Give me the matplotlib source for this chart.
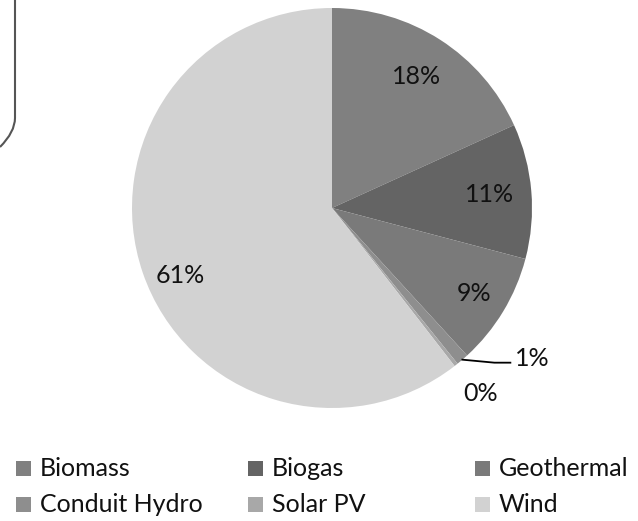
import numpy as np
import matplotlib
matplotlib.use("Agg")
import matplotlib.pyplot as plt
from matplotlib.patches import Rectangle
from matplotlib.path import Path
from matplotlib.patches import PathPatch

plt.rcParams['font.family'] = ['Lato', 'DejaVu Sans']

# data
categories = ['Biomass', 'Biogas', 'Geothermal', 'Conduit Hydro', 'Solar PV', 'Wind']
shares = [18.2, 10.9, 9.1, 1.0, 0.3, 60.5]
pct_labels = ['18%', '11%', '9%', '1%', '0%', '61%']
colors = ['#808080', '#646464', '#7a7a7a', '#8e8e8e', '#a8a8a8', '#d2d2d2']

W, H = 638, 521
FS = 18
fig = plt.figure(figsize=(W / 100, H / 100), dpi=100)

# pie centred at (332, 208) px, radius 200 px
cx, cy, R = 332, 208, 200
ax = fig.add_axes([(cx - R) / W, 1 - (cy + R) / H, 2 * R / W, 2 * R / H])
wedges, _ = ax.pie(shares, colors=colors, startangle=90, counterclock=False,
                   radius=1, wedgeprops=dict(linewidth=0))
ax.set_xlim(-1, 1)
ax.set_ylim(-1, 1)
ax.set_aspect('equal')
ax.axis('off')

# label placement: radius fraction and angle tweak per wedge
label_r = [0.78, 0.79, 0.83, None, None, 0.83]
label_dang = [0, 0, 0, 0, 0, 5]
for i, w in enumerate(wedges):
    if label_r[i] is None:
        continue
    mid = np.deg2rad((w.theta1 + w.theta2) / 2 + label_dang[i])
    ax.text(label_r[i] * np.cos(mid), label_r[i] * np.sin(mid), pct_labels[i],
            ha='center', va='center', fontsize=FS, color='#111111')

# small slices: leader line for hydro, plain text for solar
w = wedges[3]
mid = np.deg2rad((w.theta1 + w.theta2) / 2)
x0, y0 = np.cos(mid), np.sin(mid)
ax.plot([x0, x0 + 0.16, x0 + 0.24], [y0, y0 - 0.015, y0 - 0.015],
        color='black', lw=1.3, clip_on=False)
ax.text(x0 + 0.265, y0 + 0.005, pct_labels[3], ha='left', va='center',
        fontsize=FS, color='#111111', clip_on=False)
w = wedges[4]
mid = np.deg2rad((w.theta1 + w.theta2) / 2)
ax.text(np.cos(mid) + 0.12, np.sin(mid) - 0.145, pct_labels[4], ha='center',
        va='center', fontsize=FS, color='#111111', clip_on=False)

# legend, 3 columns x 2 rows
col_x = [16, 248, 475]
row_y = [468, 504]
for i, name in enumerate(categories):
    px = col_x[i % 3]
    py = row_y[i // 3]
    fig.patches.append(Rectangle((px / W, 1 - (py + 7.5) / H), 15 / W, 15 / H,
                                 transform=fig.transFigure, facecolor=colors[i],
                                 edgecolor='none'))
    fig.text((px + 24) / W, 1 - py / H, name, ha='left', va='center',
             fontsize=FS, color='#111111')

# rounded box edge, top-left corner
verts = [(15, 0), (15, 118), (15, 132), (0, 147)]
codes = [Path.MOVETO, Path.LINETO, Path.CURVE3, Path.CURVE3]
verts = [(x / W, 1 - y / H) for x, y in verts]
fig.patches.append(PathPatch(Path(verts, codes), transform=fig.transFigure,
                             facecolor='none', edgecolor='#555555', lw=1.5))

fig.savefig('out.png', dpi=100, facecolor='white')
